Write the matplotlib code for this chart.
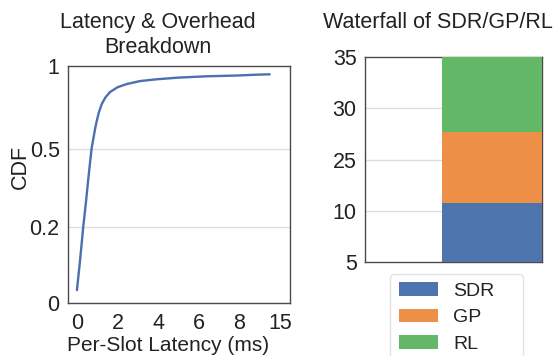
import numpy as np
import matplotlib
matplotlib.use("Agg")
import matplotlib.pyplot as plt
from matplotlib.patches import Patch
from matplotlib.ticker import FixedLocator

plt.rcParams['font.family'] = ['Liberation Sans', 'DejaVu Sans']

# ---- data ----
latency_ms = [0.0, 0.15, 0.31, 0.45, 0.58, 0.72, 0.82, 0.9, 0.97, 1.08, 1.22, 1.4, 1.63, 2.0, 2.45,
              3.1, 3.93, 5.0, 6.4, 8.0, 10.5, 13.25]
cdf_vals = [0.034, 0.11, 0.2, 0.3, 0.4, 0.5, 0.57, 0.625, 0.665, 0.72, 0.77, 0.81, 0.843, 0.872, 0.891,
            0.909, 0.92, 0.93, 0.938, 0.943, 0.947, 0.95]
x_ticks = [0, 2, 4, 6, 8, 15]
y_ticks_cdf = [0, 0.2, 0.5, 1]

wf_labels = ['SDR', 'GP', 'RL']
wf_base = 5
wf_ends = [12.4, 27.7, 35]
wf_colors = ['#4E74AD', '#EE8F48', '#62B866']
wf_yticks = [5, 10, 25, 30, 35]

# ---- scales ----
def fx(v):
    v = np.asarray(v, dtype=float)
    return np.where(v <= 8, v, 8 + (v - 8) * 2.0 / 7.0)

def ix(p):
    p = np.asarray(p, dtype=float)
    return np.where(p <= 8, p, 8 + (p - 8) * 3.5)

cdf_v = [-1, 0, 0.2, 0.5, 1, 2]
cdf_p = [-1.6, 0, 0.32, 0.65, 1, 1.7]
def fy(v):
    return np.interp(v, cdf_v, cdf_p)
def iy(p):
    return np.interp(p, cdf_p, cdf_v)

wf_v = [0, 5, 10, 25, 30, 35, 40]
wf_p = [-1, 0, 1, 2, 3, 4, 5]
def fw(v):
    return np.interp(v, wf_v, wf_p)
def iw(p):
    return np.interp(p, wf_p, wf_v)

W, H = 555, 356
fig = plt.figure(figsize=(W / 100, H / 100), dpi=100)

spine_col = '#4a4a4a'
grid_col = '#dedede'
fs = 15.5

# ---- left: CDF ----
ax1 = fig.add_axes([68 / W, (H - 303) / H, 222 / W, 237 / H])
ax1.set_xscale('function', functions=(fx, ix))
ax1.set_yscale('function', functions=(fy, iy))
ax1.plot(latency_ms, cdf_vals, color='#4C6FAE', lw=1.7, solid_capstyle='round',
         solid_joinstyle='round', zorder=3)
ax1.set_xlim(ix(-0.44), ix(10.5))
ax1.set_ylim(0, 1)
ax1.set_xticks(x_ticks)
ax1.set_xticklabels([str(t) for t in x_ticks])
ax1.set_yticks(y_ticks_cdf)
ax1.set_yticklabels(['0', '0.2', '0.5', '1'])
ax1.xaxis.set_minor_locator(FixedLocator([2, 4, 6, 8]))
ax1.tick_params(axis='both', which='major', length=0, labelsize=fs, colors='#222222')
ax1.tick_params(axis='x', which='major', pad=7)
ax1.tick_params(axis='y', which='major', pad=6)
ax1.tick_params(axis='x', which='minor', direction='in', length=3, width=0.8, color='#888888')
ax1.yaxis.set_minor_locator(FixedLocator([]))
for y in [0.2, 0.5]:
    ax1.axhline(y, color=grid_col, lw=1.0, zorder=1)
for s in ax1.spines.values():
    s.set_color(spine_col)
    s.set_linewidth(1.0)
ax1.set_xlabel('Per-Slot Latency (ms)', fontsize=15, color='#222222', labelpad=1.5)
ax1.xaxis.label.set_x(0.45)
ax1.set_ylabel('CDF', fontsize=fs, color='#222222')
ax1.yaxis.set_label_coords(-0.166, 0.575)

fig.text(158 / W, 1 - 35 / H, 'Latency & Overhead\nBreakdown', ha='center', va='center',
         fontsize=fs, color='#222222', linespacing=1.2)

# ---- right: waterfall ----
ax2 = fig.add_axes([365 / W, (H - 262) / H, 177 / W, 205 / H])
ax2.set_yscale('function', functions=(fw, iw))
bottoms = [wf_base] + wf_ends[:-1]
handles = []
for lab, b, e, c in zip(wf_labels, bottoms, wf_ends, wf_colors):
    ax2.bar(0, e - b, bottom=b, width=1.0, color=c, edgecolor='none', zorder=3)
    handles.append(Patch(facecolor=c, edgecolor='none', label=lab))
ax2.set_xlim(-1.27, 0.5)
ax2.set_ylim(5, 35)
ax2.set_xticks([])
ax2.set_yticks(wf_yticks)
ax2.set_yticklabels([str(t) for t in wf_yticks])
ax2.yaxis.set_minor_locator(FixedLocator([]))
ax2.tick_params(axis='y', length=0, labelsize=fs, pad=6, colors='#222222')
for y in [10, 25, 30]:
    ax2.axhline(y, color=grid_col, lw=1.0, zorder=1)
for s in ax2.spines.values():
    s.set_color(spine_col)
    s.set_linewidth(1.0)

fig.text(437.5 / W, 1 - 23 / H, 'Waterfall of SDR/GP/RL', ha='center', va='center',
         fontsize=fs, color='#222222')

leg = fig.legend(handles=handles, loc='upper left',
                 bbox_to_anchor=(390 / W, 1 - 274 / H, 133 / W, 0.001), mode='expand',
                 borderaxespad=0, fontsize=14, frameon=True, handlelength=2.0,
                 handleheight=0.7, labelspacing=0.45, handletextpad=0.8,
                 borderpad=0.45, fancybox=True)
leg.get_frame().set_edgecolor('#dddddd')
leg.get_frame().set_linewidth(1.0)
for t in leg.get_texts():
    t.set_color('#222222')

fig.savefig('out.png', dpi=100)
